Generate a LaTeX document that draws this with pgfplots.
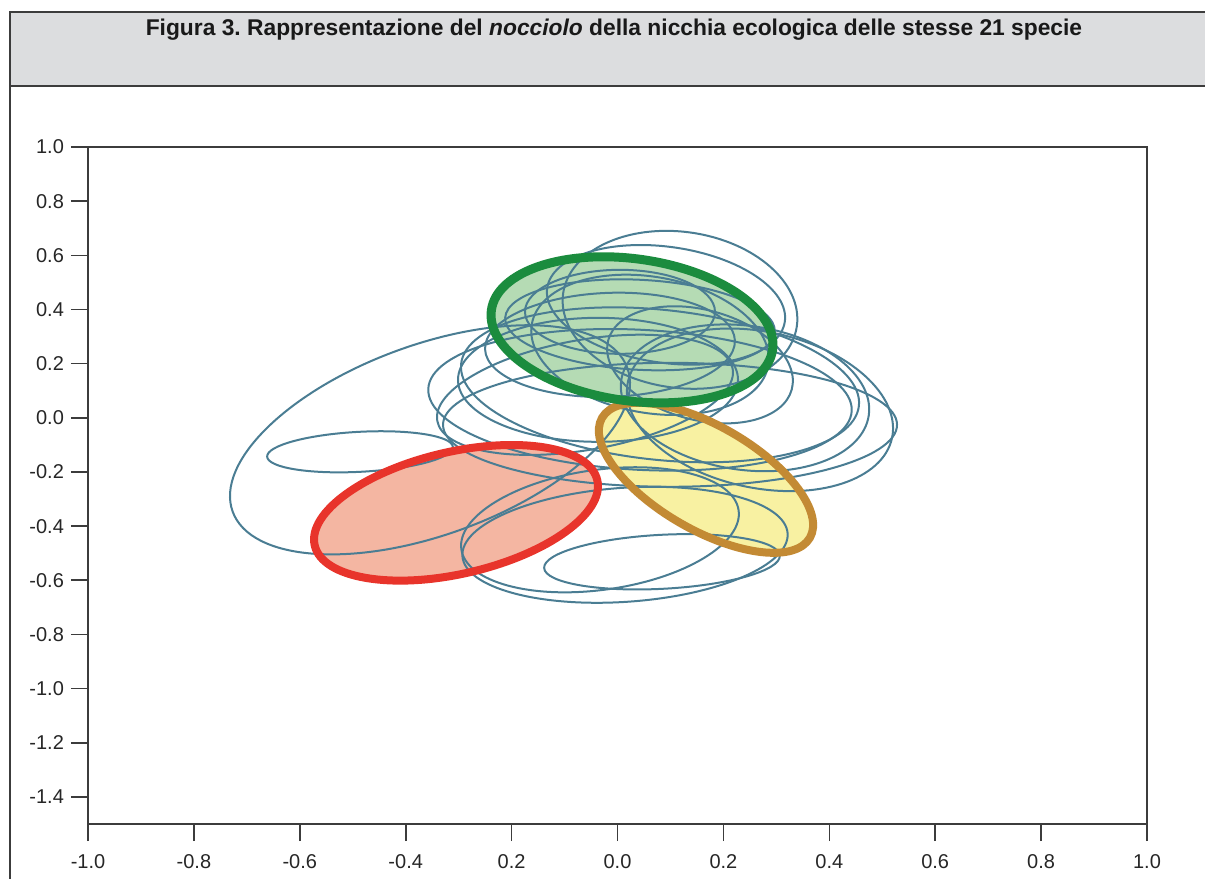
\documentclass[border=0pt]{standalone}
\usepackage{fontspec}
\setmainfont{Liberation Sans}
\usepackage{pgfplots}
\usepackage{pgfplotstable}
\pgfplotsset{compat=1.18}
\frenchspacing

\definecolor{frameline}{HTML}{3C3C3C}
\definecolor{headfill}{HTML}{DCDDDF}
\definecolor{speciesline}{HTML}{4A7D93}
\definecolor{greenfill}{HTML}{B5DBB4}
\definecolor{greenline}{HTML}{1B8C3E}
\definecolor{redfill}{HTML}{F4B6A2}
\definecolor{redline}{HTML}{E8342B}
\definecolor{yellowfill}{HTML}{F8F1A2}
\definecolor{yellowline}{HTML}{C38A34}

% An ellipse drawn around a niche centre: semi-axes a, b (pt) and rotation ang (deg)
\pgfdeclareplotmark{niche}{%
  \begin{pgfscope}%
    \pgftransformrotate{\nicheang}%
    \pgfpathellipse{\pgfpointorigin}{\pgfqpoint{\nichea pt}{0pt}}{\pgfqpoint{0pt}{\nicheb pt}}%
    \pgfusepathqstroke
  \end{pgfscope}%
}
\pgfdeclareplotmark{nichefill}{%
  \begin{pgfscope}%
    \pgftransformrotate{\nicheang}%
    \pgfpathellipse{\pgfpointorigin}{\pgfqpoint{\nichea pt}{0pt}}{\pgfqpoint{0pt}{\nicheb pt}}%
    \pgfusepathqfill
  \end{pgfscope}%
}

% niche cores: centre (x, y), semi-axes a, b and rotation ang
\pgfplotstableread{
x y a b ang
-0.3541 -0.0812 105 47.5 20
-0.4863 -0.1255 46.5 10 3
0.0142 -0.4689 81.5 28.5 4
0.0840 -0.5317 59 13.5 3
-0.0331 -0.4135 70 30 8
0.0425 0.0665 106 35 -3
0.0992 -0.0258 113.5 31 0
0.0803 0.1218 100 37.5 -6
-0.0368 0.1403 70 31 0
-0.0614 0.0849 75 27.5 10
0.2691 0.0295 67.5 39 -12
0.2408 0.0738 62.5 36 -8
0.1180 0.3988 59 39 -8
0.0916 0.4172 60 29 -8
0.0425 0.3434 67.5 22.5 -3
-0.0142 0.2695 62.5 26 2
0.0614 0.2695 60 34 -10
0.1558 0.1957 47.5 27.5 -15
0.0047 0.3914 47.5 21 0
}\grayEll

\pgfplotstableread{
x y a b ang
0.0274 0.3249 71 35.5 -8
}\greenEll

\pgfplotstableread{
x y a b ang
-0.3050 -0.3508 72.5 30.5 13
}\redEll

\pgfplotstableread{
x y a b ang
0.1671 -0.2215 60 26 -30
}\yellowEll

\pgfplotsset{
  niche plot/.style={
    scatter, only marks,
    scatter/@pre marker code/.code={},
    scatter/@post marker code/.code={},
    visualization depends on={\thisrow{a}\as\nichea},
    visualization depends on={\thisrow{b}\as\nicheb},
    visualization depends on={\thisrow{ang}\as\nicheang},
  },
}

\begin{document}
\begin{tikzpicture}
\begin{scope}[x=0.5pt,y=-0.5pt]
  \path[use as bounding box] (0,0) rectangle (1205,879);
  \fill[headfill] (10,12) rectangle (1205,86);
  \draw[frameline, line width=1pt] (1205,12) -- (10,12) -- (10,879);
  \draw[frameline, line width=1pt] (10,86) -- (1205,86);
  \node[font=\bfseries\fontsize{11.4}{13}\selectfont, text=black!90] at (614,30)
    {Figura 3. Rappresentazione del \textit{nocciolo} della nicchia ecologica delle stesse 21 specie};
\end{scope}
\begin{axis}[
  at={(44pt,-412pt)}, anchor=south west,
  scale only axis, width=529.5pt, height=338.5pt,
  xmin=-1, xmax=1, ymin=-1.5, ymax=1,
  xtick={-1,-0.8,-0.6,-0.4,-0.2,0,0.2,0.4,0.6,0.8,1},
  xticklabels={-1.0,-0.8,-0.6,-0.4,0.2,0.0,0.2,0.4,0.6,0.8,1.0},
  ytick={-1.4,-1.2,-1,-0.8,-0.6,-0.4,-0.2,0,0.2,0.4,0.6,0.8,1},
  yticklabels={-1.4,-1.2,-1.0,-0.8,-0.6,-0.4,-0.2,0.0,0.2,0.4,0.6,0.8,1.0},
  xtick pos=lower, ytick pos=left,
  tick align=outside, major tick length=8.5pt,
  tick style={frameline, line width=0.8pt},
  axis line style={frameline, line width=0.9pt},
  ticklabel style={font=\fontsize{10}{12}\selectfont, text=black!85},
  xticklabel style={yshift=-3pt},
]
% fills of the highlighted niches
\addplot[niche plot, mark=nichefill, mark options={fill=greenfill}] table {\greenEll};
\addplot[niche plot, mark=nichefill, mark options={fill=yellowfill}] table {\yellowEll};
\addplot[niche plot, mark=nichefill, mark options={fill=redfill}] table {\redEll};

% niche cores of the other species
\addplot[niche plot, mark=niche, mark options={draw=speciesline, line width=1pt}] table {\grayEll};

% outlines of the highlighted niches
\addplot[niche plot, mark=niche, mark options={draw=yellowline, line width=4pt}] table {\yellowEll};
\addplot[niche plot, mark=niche, mark options={draw=redline, line width=4pt}] table {\redEll};
\addplot[niche plot, mark=niche, mark options={draw=greenline, line width=4.5pt}] table {\greenEll};
\end{axis}
\end{tikzpicture}
\end{document}
